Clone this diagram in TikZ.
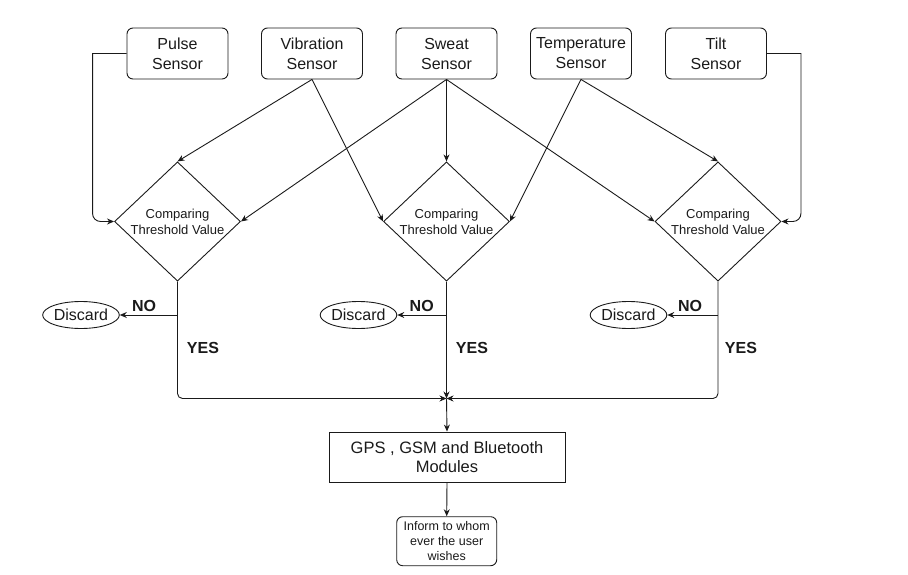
\documentclass[tikz,border=0pt]{standalone}
\usepackage{fontspec}
\setmainfont{Liberation Sans}
\usetikzlibrary{shapes.geometric,arrows.meta}
\definecolor{ink}{HTML}{1A1A1A}
\begin{document}
\begin{tikzpicture}[x=1pt,y=-1pt,
  every node/.style={text=ink},
  sensor/.style={draw=ink, line width=0.9pt, rounded corners=6pt, minimum width=101pt, minimum height=51pt, inner sep=0pt, align=center, font=\fontsize{16}{20}\selectfont},
  decide/.style={draw=ink, line width=0.9pt, diamond, minimum width=126pt, minimum height=117pt, inner sep=0pt, align=center, font=\fontsize{13}{16}\selectfont},
  discardnode/.style={draw=ink, line width=0.9pt, ellipse, minimum width=76pt, minimum height=27pt, inner sep=0pt, font=\fontsize{16}{19}\selectfont},
  lbl/.style={font=\bfseries\fontsize{16}{19}\selectfont, inner sep=0pt},
  arr/.style={draw=ink, line width=0.9pt, -{Stealth[length=7pt,width=6pt]}},
  plain/.style={draw=ink, line width=0.9pt}
]
\useasboundingbox (0,0) rectangle (908,575);

% sensors
\node[sensor] (pulse) at (177.5,53.5) {Pulse\\Sensor};
\node[sensor] (vib)   at (312,53.5) {Vibration\\Sensor};
\node[sensor] (sweat) at (446.5,53.5) {Sweat\\Sensor};
\node[sensor] (temp)  at (581,53.5) {Temperature\\Sensor};
\node[sensor] (tilt)  at (716,53.5) {Tilt\\Sensor};

% decisions
\node[decide] (d1) at (177.5,221.5) {Comparing\\Threshold Value};
\node[decide] (d2) at (446.5,221.5) {Comparing\\Threshold Value};
\node[decide] (d3) at (718,221.5) {Comparing\\Threshold Value};

% discards
\node[discardnode] (x1) at (81,315) {Discard};
\node[discardnode] (x2) at (358.5,315) {Discard};
\node[discardnode] (x3) at (628.5,315) {Discard};

% lower boxes
\node[draw=ink, line width=0.9pt, minimum width=236pt, minimum height=50pt, inner sep=0pt, align=center, font=\fontsize{16.5}{19.5}\selectfont] (gps) at (447,457) {GPS , GSM and Bluetooth\\Modules};
\node[draw=ink, line width=0.9pt, rounded corners=6pt, minimum width=100pt, minimum height=49pt, inner sep=0pt, align=center, font=\fontsize{12.5}{15}\selectfont] (inform) at (446.7,541.2) {Inform to whom\\ever the user\\wishes};

\coordinate (j) at (446.5,398.5);

% sensor connectors
\draw[arr] (pulse.west) -- ++(-34,0) {[rounded corners=8pt] |- (d1.west)};
\draw[arr] (tilt.east) -- ++(34,0) {[rounded corners=8pt] |- (d3.east)};
\draw[arr] (vib.south) -- (d1.north);
\draw[arr] (vib.south) -- (d2.west);
\draw[arr] (sweat.south) -- (d1.east);
\draw[arr] (sweat.south) -- (d2.north);
\draw[arr] (sweat.south) -- (d3.west);
\draw[arr] (temp.south) -- (d2.east);
\draw[arr] (temp.south) -- (d3.north);

% NO branches
\draw[arr] (d1.south |- x1.east) -- (x1.east);
\draw[arr] (d2.south |- x2.east) -- (x2.east);
\draw[arr] (d3.south |- x3.east) -- (x3.east);

% YES branches to bus
\draw[arr, rounded corners=5pt] (d1.south) |- (j);
\draw[arr, rounded corners=5pt] (d3.south) |- (j);
\draw[arr] (d2.south) -- (j);
\draw[arr] (j) -- (gps.north);
\draw[arr] (gps.south) -- (inform.north);

% labels
\node[lbl] (no1) at (144,306) {NO};
\node[lbl] (no2) at (421.7,306) {NO};
\node[lbl] (no3) at (690,306) {NO};
\node[lbl] (yes1) at (203,348) {YES};
\node[lbl] (yes2) at (472,348) {YES};
\node[lbl] (yes3) at (741,348) {YES};
\end{tikzpicture}
\end{document}
